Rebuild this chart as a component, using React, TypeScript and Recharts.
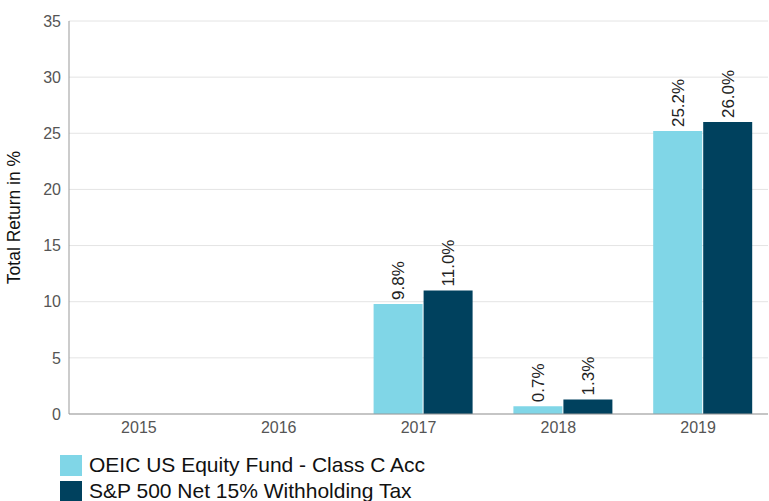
import { BarChart, Bar, XAxis, YAxis, CartesianGrid, LabelList } from "recharts";

const years = ["2015", "2016", "2017", "2018", "2019"];
const fundReturns: (number | null)[] = [null, null, 9.8, 0.7, 25.2];
const indexReturns: (number | null)[] = [null, null, 11.0, 1.3, 26.0];
const yTicks = [0, 5, 10, 15, 20, 25, 30, 35];

const fundName = "OEIC US Equity Fund - Class C Acc";
const indexName = "S&P 500 Net 15% Withholding Tax";
const fundColor = "#80d6e7";
const indexColor = "#00415e";

const data = years.map((year, i) => ({
  year,
  fund: fundReturns[i],
  index: indexReturns[i],
}));

const FONT = "'Liberation Sans', Arial, sans-serif";

// Percent labels stand upright above each bar, reading bottom to top.
function VerticalLabel(props: any) {
  const { x, y, width, value } = props;
  if (value == null) return null;
  const cx = x + width / 2 + 6;
  const baseY = y - 4;
  return (
    <text
      x={cx}
      y={baseY}
      transform={`rotate(-90 ${cx} ${baseY})`}
      textAnchor="start"
      fontSize={17}
      fontFamily={FONT}
      fill="#222"
    >
      {`${Number(value).toFixed(1)}%`}
    </text>
  );
}

export default function App() {
  return (
    <div style={{ position: "absolute", left: 0, top: 0, width: 769, height: 501, background: "#fff", fontFamily: FONT }}>
      <BarChart
        width={769}
        height={444}
        data={data}
        margin={{ top: 21, right: 1, left: 0, bottom: 0 }}
        barGap={1}
      >
        <CartesianGrid vertical={false} stroke="#e4e4e4" />
        <XAxis
          dataKey="year"
          height={30}
          tickLine={false}
          axisLine={{ stroke: "#999" }}
          tick={{ fontSize: 16, fill: "#555", fontFamily: FONT }}
        />
        <YAxis
          width={69}
          domain={[0, 35]}
          ticks={yTicks}
          interval={0}
          tickLine={false}
          axisLine={{ stroke: "#999" }}
          tick={{ fontSize: 16, fill: "#555", fontFamily: FONT }}
          label={{
            value: "Total Return in %",
            angle: -90,
            position: "insideLeft",
            dx: 9,
            style: { textAnchor: "middle", fontSize: 17.5, fill: "#111", fontFamily: FONT },
          }}
        />
        {/* empty spacer series: the original groups sit a few px right of the tick */}
        <Bar dataKey="spacer" barSize={8} fill="none" isAnimationActive={false} />
        <Bar dataKey="fund" barSize={49} fill={fundColor} isAnimationActive={false}>
          <LabelList dataKey="fund" content={<VerticalLabel />} />
        </Bar>
        <Bar dataKey="index" barSize={49} fill={indexColor} isAnimationActive={false}>
          <LabelList dataKey="index" content={<VerticalLabel />} />
        </Bar>
      </BarChart>
      <div style={{ position: "absolute", left: 60, top: 452, fontSize: 21, color: "#111", lineHeight: "26px" }}>
        {[
          { name: fundName, color: fundColor },
          { name: indexName, color: indexColor },
        ].map((item) => (
          <div key={item.name} style={{ display: "flex", alignItems: "center", height: 26 }}>
            <span style={{ display: "inline-block", width: 22, height: 21, background: item.color, marginRight: 7 }} />
            <span>{item.name}</span>
          </div>
        ))}
      </div>
    </div>
  );
}
